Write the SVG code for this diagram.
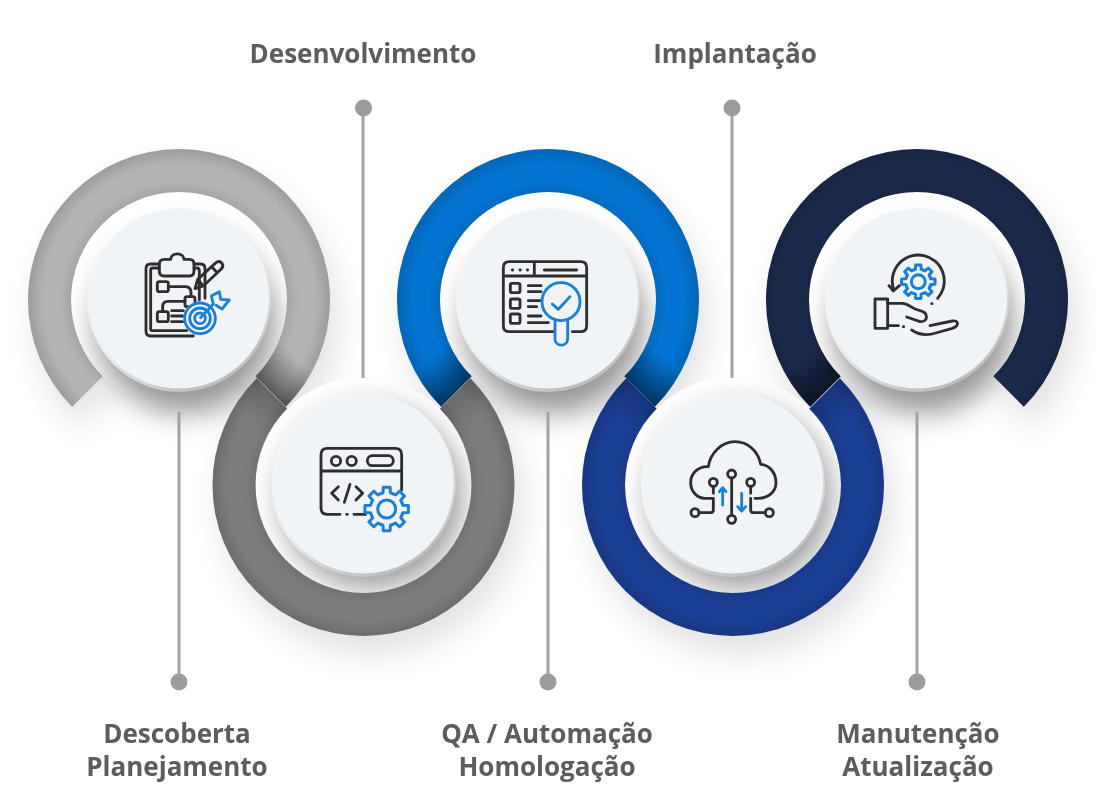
<svg xmlns="http://www.w3.org/2000/svg" xmlns:xlink="http://www.w3.org/1999/xlink" width="1100" height="800" viewBox="0 0 1100 800">
<style>
.lbl{font-family:"Open Sans","Liberation Sans",sans-serif;font-weight:700;font-size:26px;fill:#5c5c5c;text-anchor:middle}
.leader{stroke:#a3a3a3;stroke-width:3;fill:none}
.dot{fill:#9c9c9c}
.ik,.ib{fill:none;stroke-width:8.5;stroke-linecap:round;stroke-linejoin:round}
.ik{stroke:#2e2e30}
.ib{stroke:#1a7fd6}
.bgf{fill:#f0f4f7}
.gear{fill:none;stroke:#1a7fd6;stroke-linejoin:round;stroke-linecap:round}
</style>
<defs>
<path id="ringT" d="M-106.77 106.77A151 151 0 1 1 106.77 106.77L76.37 76.37A108 108 0 1 0 -76.37 76.37Z"/>
<path id="ringB" d="M-106.77 -106.77A151 151 0 1 0 106.77 -106.77L76.37 -76.37A108 108 0 1 1 -76.37 -76.37Z"/>
<path id="endS" d="M106.77 106.77A151 151 0 0 0 145.9 39.1L104.3 28A108 108 0 0 1 76.37 76.37Z"/>
<radialGradient id="edge" gradientUnits="userSpaceOnUse" cx="0" cy="0" r="151">
<stop offset=".715" stop-color="#000" stop-opacity=".08"/><stop offset=".79" stop-color="#000" stop-opacity="0"/><stop offset=".9" stop-color="#000" stop-opacity="0"/><stop offset="1" stop-color="#000" stop-opacity=".13"/>
</radialGradient>
<linearGradient id="jStrong" gradientUnits="userSpaceOnUse" x1="92.7" y1="92.7" x2="122" y2="63"><stop offset="0" stop-color="#000" stop-opacity=".5"/><stop offset="1" stop-color="#000" stop-opacity="0"/></linearGradient>
<linearGradient id="jSoft" gradientUnits="userSpaceOnUse" x1="92.7" y1="92.7" x2="117" y2="68"><stop offset="0" stop-color="#000" stop-opacity=".16"/><stop offset="1" stop-color="#000" stop-opacity="0"/></linearGradient>
<linearGradient id="rim" x1=".2" y1="0" x2=".75" y2="1"><stop offset="0" stop-color="#fbfcfc"/><stop offset=".55" stop-color="#eceeef"/><stop offset="1" stop-color="#b4b6b8"/></linearGradient>
<filter id="blurA" x="-40%" y="-40%" width="180%" height="180%"><feGaussianBlur stdDeviation="16"/></filter>
<filter id="blurB" x="-40%" y="-40%" width="180%" height="180%"><feGaussianBlur stdDeviation="15"/></filter>
<path id="tooth" d="M15.24 -6.31L16.08 -3.71L21.73 -3.44L21.73 3.44L16.08 3.71L15.24 6.31"/>
<g id="gear">
<use href="#tooth"/><use href="#tooth" transform="rotate(45)"/><use href="#tooth" transform="rotate(90)"/><use href="#tooth" transform="rotate(135)"/><use href="#tooth" transform="rotate(180)"/><use href="#tooth" transform="rotate(225)"/><use href="#tooth" transform="rotate(270)"/><use href="#tooth" transform="rotate(315)"/>
<circle r="9"/>
</g>
<g id="disc"><circle r="92" cy="0" fill="url(#rim)"/><circle r="90" cy="-1.5" fill="#f0f4f7"/></g>
</defs>
<rect width="1100" height="800" fill="#fff"/>
<g id="shadows">
<g opacity=".12" filter="url(#blurA)">
<use href="#ringT" x="187" y="320"/><use href="#ringB" x="372" y="503"/><use href="#ringT" x="556" y="320"/><use href="#ringB" x="741" y="503"/><use href="#ringT" x="925" y="320"/>
</g>
<g fill="#fff"><circle cx="179" cy="300" r="108"/><circle cx="363.5" cy="485" r="108"/><circle cx="548" cy="300" r="108"/><circle cx="733" cy="485" r="108"/><circle cx="917" cy="300" r="108"/></g>
<g fill="#000" opacity=".42" filter="url(#blurB)">
<circle cx="185" cy="323" r="90"/><circle cx="371" cy="497" r="90"/><circle cx="554" cy="323" r="90"/><circle cx="740" cy="497" r="90"/><circle cx="923" cy="323" r="90"/>
</g>
</g>
<g id="connectors">
<path class="leader" d="M363 108V378M732 108V378M179 412V682M548 412V682M917 412V682"/>
<circle class="dot" cx="363.500" cy="108" r="8.500"/><circle class="dot" cx="732" cy="108" r="8.500"/><circle class="dot" cx="179" cy="682" r="8.500"/><circle class="dot" cx="548" cy="682" r="8.500"/><circle class="dot" cx="917" cy="682" r="8.500"/>
</g>
<g id="node1">
<g transform="translate(179 300)"><use href="#ringT" fill="#b4b4b4"/><use href="#ringT" fill="url(#edge)"/><use href="#endS" fill="url(#jStrong)"/><use href="#disc"/></g>
<g transform="translate(130 240) scale(.3333)">
<path class="ik" d="M88 72H62Q48 72 48 86V274Q48 288 62 288H190M192 72H212Q225 72 225 86V175M88 84H68Q62 84 62 90V266Q62 272 68 272H170M192 84H200Q208 84 208 92V180"/>
<path class="ik" d="M104 58H122C124 36 160 36 162 58H178Q192 58 192 72V94Q192 108 178 108H102Q88 108 88 94V72Q88 58 104 58Z"/>
<rect class="ik" x="82" y="125" width="33" height="30" rx="6"/><rect class="ik" x="165" y="170" width="30" height="30" rx="6"/><rect class="ik" x="82" y="215" width="33" height="30" rx="6"/>
<path class="ik" d="M115 140H165Q183 140 183 158V170M98 215V200Q98 184 114 184H165M125 212H160M125 228H165M125 245H165"/>
<path class="ik" d="M195 146L203 118L258 68Q268 60 276 70Q282 80 273 88L220 138ZM203 118L220 138M245 80L262 98"/>
<circle class="bgf" cx="210" cy="235" r="50"/>
<circle class="ib" cx="210" cy="235" r="46"/><circle class="ib" cx="210" cy="235" r="31"/><circle class="ib" cx="210" cy="235" r="16"/>
<path class="ib" d="M212 233L250 192M250 192L244 168L268 155L272 178L298 180L276 207L258 196"/>
</g>
</g>
<g id="node2">
<g transform="translate(363.500 485)"><use href="#ringB" fill="#7c7c7c"/><use href="#ringB" fill="url(#edge)"/><use href="#endS" fill="url(#jSoft)" transform="rotate(180)"/><use href="#endS" fill="url(#jSoft)" transform="scale(1 -1)"/><use href="#disc"/></g>
<g transform="translate(310 435) scale(.3333)">
<path class="ik" d="M90 238H52Q33 238 33 219V59Q33 40 52 40H256Q275 40 275 59V165M110 238H112M132 238H170M33 108H275"/>
<circle class="ik" cx="78" cy="78" r="14"/><circle class="ik" cx="125" cy="78" r="14"/><rect class="ik" x="172" y="62" width="78" height="30" rx="15"/>
<path class="ik" d="M85 155L65 175L85 195M120 148L103 202M138 155L158 175L138 195"/>
</g>
<g transform="translate(386.700 509)" class="gear" stroke-width="3"><circle class="bgf" r="21" stroke="none"/><use href="#gear"/></g>
</g>
<g id="node3">
<g transform="translate(548 300)"><use href="#ringT" fill="#0374d1"/><use href="#ringT" fill="url(#edge)"/><use href="#endS" fill="url(#jStrong)"/><use href="#endS" fill="url(#jStrong)" transform="scale(-1 1)"/><use href="#disc"/></g>
<g transform="translate(495 250) scale(.3333)">
<path class="ik" d="M175 245H43Q25 245 25 227V53Q25 35 43 35H257Q275 35 275 53V227Q275 245 257 245H232M25 78H275M118 35V78M148 60H245M100 107H138M100 125H138M100 152H138M100 170H125M100 198H138M100 218H160"/>
<path class="ik" d="M52 60H53M75 60H76M97 60H98"/>
<rect class="ik" x="46" y="100" width="29" height="28" rx="5"/><rect class="ik" x="46" y="147" width="29" height="28" rx="5"/><rect class="ik" x="46" y="192" width="29" height="28" rx="5"/>
<circle class="bgf" cx="198" cy="155" r="58"/>
<circle class="ib" cx="198" cy="155" r="57"/>
<path class="ib" d="M180 213V266C180 292 218 292 218 266V213M172 162L190 178L225 140"/>
</g>
</g>
<g id="node4">
<g transform="translate(733 485)"><use href="#ringB" fill="#1c3f96"/><use href="#ringB" fill="url(#edge)"/><use href="#endS" fill="url(#jSoft)" transform="rotate(180)"/><use href="#endS" fill="url(#jSoft)" transform="scale(1 -1)"/><use href="#disc"/></g>
<g transform="translate(680 430) scale(.3333)">
<path class="ik" d="M95 205H75C50 205 32 182 32 158C32 130 55 108 85 110C90 70 125 35 165 35C205 35 235 65 242 103C270 105 288 130 288 158C288 185 265 205 235 205H225"/>
<circle class="ik" cx="155" cy="132" r="12"/><circle class="ik" cx="155" cy="268" r="12"/><circle class="ik" cx="100" cy="157" r="12"/><circle class="ik" cx="212" cy="157" r="12"/><circle class="ik" cx="45" cy="248" r="12"/><circle class="ik" cx="268" cy="248" r="12"/>
<path class="ik" d="M155 144V256M100 170V190M100 205V240Q100 248 92 248H57M212 170V190M212 205V240Q212 248 220 248H256"/>
<path class="ib" d="M128 225V175M118 185L128 173L138 185M185 190V240M173 230L185 243L197 230"/>
</g>
</g>
<g id="node5">
<g transform="translate(917 300)"><use href="#ringT" fill="#1b2a4c"/><use href="#ringT" fill="url(#edge)"/><use href="#endS" fill="url(#jStrong)" transform="scale(-1 1)"/><use href="#disc"/></g>
<g transform="translate(865 245) scale(.3333)">
<path class="ik" d="M85 130A78 78 0 1 1 218 160M72 122L85 138L103 122M200 176H201"/>
<rect class="ik" x="30" y="162" width="38" height="88"/>
<path class="ik" d="M68 175H112C132 175 138 192 165 197C192 203 190 232 165 230L125 216M68 242H100M115 245H116M140 255C165 272 188 272 212 264L262 250C285 242 280 224 262 228L195 242"/>
</g>
<g transform="translate(918.300 281.700) scale(.77)" class="gear" stroke-width="3.900"><use href="#gear"/></g>
</g>
<g id="labels">
<text class="lbl" x="363" y="63">Desenvolvimento</text>
<text class="lbl" x="735" y="63">Implantação</text>
<text class="lbl" x="177" y="743">Descoberta</text>
<text class="lbl" x="177" y="776">Planejamento</text>
<text class="lbl" x="547" y="743">QA / Automação</text>
<text class="lbl" x="547" y="776">Homologação</text>
<text class="lbl" x="918" y="743">Manutenção</text>
<text class="lbl" x="918" y="776">Atualização</text>
</g>
</svg>
